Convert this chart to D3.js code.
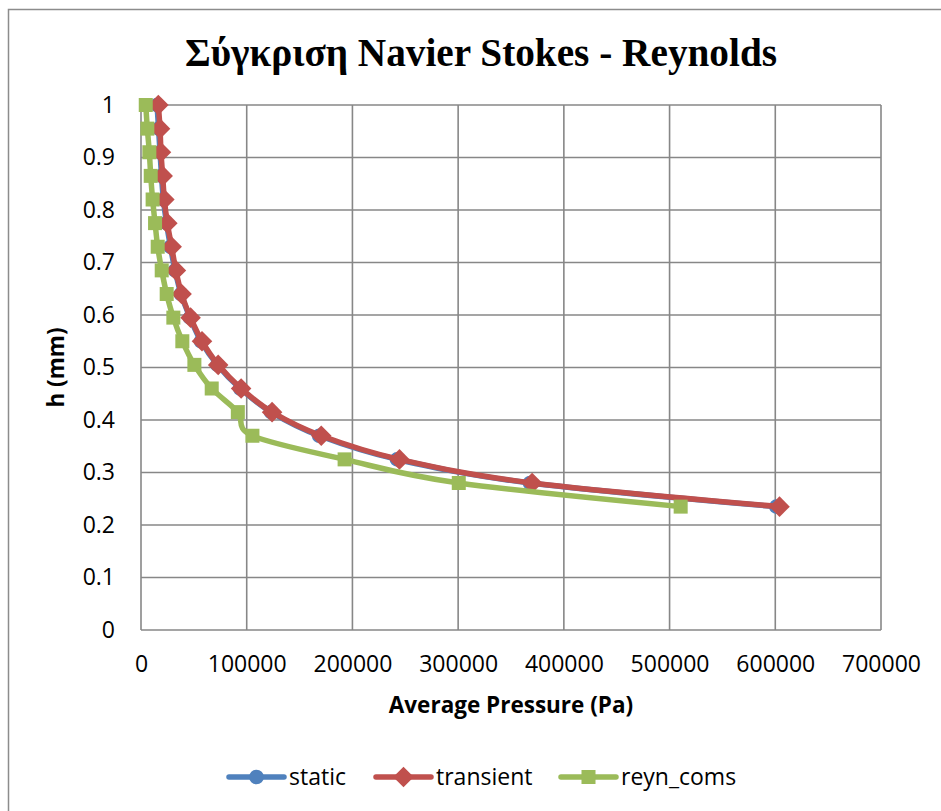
<!DOCTYPE html>
<html>
<head>
<meta charset="utf-8">
<script src="https://cdn.jsdelivr.net/npm/d3@7"></script>
<style>
  html, body { margin: 0; padding: 0; background: #fff; }
  svg { display: block; }
</style>
</head>
<body>
<svg id="chart" width="941" height="811"></svg>
<script>
// Film thickness h (mm) at which each pressure was computed
const hValues = [1.0, 0.955, 0.91, 0.865, 0.82, 0.775, 0.73, 0.685, 0.64,
                 0.595, 0.55, 0.505, 0.46, 0.415, 0.37, 0.325, 0.28, 0.235];

// Average pressure (Pa) for each solver
const staticP = [15200, 16600, 18000, 19400, 21200, 24100, 27900, 32200, 37900,
                 46400, 56800, 72300, 93800, 123100, 168600, 242200, 368000, 601000];
const transientP = [16400, 18000, 18900, 20500, 22100, 24900, 29000, 33000, 38400,
                    46900, 57700, 73000, 94700, 124000, 170500, 244500, 370000, 604000];
const reynComsP = [4500, 6000, 7900, 9200, 11000, 13300, 15800, 19600, 24300,
                   30600, 39100, 50500, 66900, 91600, 105400, 192600, 300600, 510500];

const seriesNames = ["static", "transient", "reyn_coms"];
const xTicks = [0, 100000, 200000, 300000, 400000, 500000, 600000, 700000];
const yTicks = [0, 0.1, 0.2, 0.3, 0.4, 0.5, 0.6, 0.7, 0.8, 0.9, 1];

const titleText = "Σύγκριση Navier Stokes - Reynolds";
const xTitle = "Average Pressure (Pa)";
const yTitle = "h (mm)";

const colors = { static: "#4F81BD", transient: "#C0504D", reyn_coms: "#9BBB59" };
const shapes = { static: d3.symbolCircle, transient: d3.symbolDiamond2, reyn_coms: d3.symbolSquare2 };

const series = [
  { name: seriesNames[0], xs: staticP },
  { name: seriesNames[1], xs: transientP },
  { name: seriesNames[2], xs: reynComsP }
].map(s => ({ name: s.name, pts: s.xs.map((x, i) => ({ x, h: hValues[i] })) }));

const svg = d3.select("#chart");
const plot = { left: 141, right: 881, top: 105, bottom: 630 };
const uiFont = "'Open Sans', 'Noto Sans', sans-serif";

// chart-area frame
svg.append("rect")
  .attr("x", 8.5).attr("y", 9.5)
  .attr("width", 960).attr("height", 840)
  .attr("fill", "#fff").attr("stroke", "#8c8c8c").attr("stroke-width", 1.5);

const x = d3.scaleLinear().domain([0, 700000]).range([plot.left, plot.right]);
const y = d3.scaleLinear().domain([0, 1]).range([plot.bottom, plot.top]);

// gridlines
const grid = svg.append("g").attr("stroke", "#878787").attr("stroke-width", 1.6);
grid.selectAll("line.v").data(xTicks).join("line")
  .attr("x1", d => x(d)).attr("x2", d => x(d))
  .attr("y1", plot.top).attr("y2", plot.bottom);
grid.selectAll("line.h").data(yTicks).join("line")
  .attr("x1", plot.left).attr("x2", plot.right)
  .attr("y1", d => y(d)).attr("y2", d => y(d));

// axes (labels only, gridlines drawn above)
const xAxis = svg.append("g")
  .attr("transform", `translate(0,${plot.bottom})`)
  .call(d3.axisBottom(x).tickValues(xTicks).tickFormat(d3.format("d")).tickSize(0).tickPadding(34));
const yAxis = svg.append("g")
  .attr("transform", `translate(${plot.left},0)`)
  .call(d3.axisLeft(y).tickValues(yTicks).tickFormat(d => d === 0 || d === 1 ? String(d) : d3.format(".1f")(d)).tickSize(0).tickPadding(26));
[xAxis, yAxis].forEach(a => {
  a.select(".domain").remove();
  a.selectAll("text").attr("font-family", uiFont).attr("font-size", 23).attr("fill", "#000");
});
xAxis.selectAll("text").attr("dy", "0.35em").attr("y", 34);

// series lines (smoothed) and markers
const line = d3.line().x(d => x(d.x)).y(d => y(d.h)).curve(d3.curveCardinal.tension(0));
const markerSize = { static: 170, transient: 270, reyn_coms: 250 };

series.forEach(s => {
  const g = svg.append("g");
  g.append("path")
    .attr("d", line(s.pts))
    .attr("fill", "none")
    .attr("stroke", colors[s.name])
    .attr("stroke-width", 5.5)
    .attr("stroke-linejoin", "round")
    .attr("stroke-linecap", "round");
  g.selectAll("path.m").data(s.pts).join("path")
    .attr("class", "m")
    .attr("transform", d => `translate(${x(d.x)},${y(d.h)})`)
    .attr("d", d3.symbol(shapes[s.name], markerSize[s.name])())
    .attr("fill", colors[s.name]);
});

// title
svg.append("text")
  .attr("x", 481).attr("y", 66)
  .attr("text-anchor", "middle")
  .attr("font-family", "'Liberation Serif', 'DejaVu Serif', serif")
  .attr("font-weight", "bold")
  .attr("font-size", 39)
  .attr("textLength", 592)
  .attr("lengthAdjust", "spacingAndGlyphs")
  .text(titleText);

// axis titles
svg.append("text")
  .attr("x", (plot.left + plot.right) / 2).attr("y", 713)
  .attr("text-anchor", "middle")
  .attr("font-family", uiFont).attr("font-weight", "bold").attr("font-size", 22.5)
  .text(xTitle);
svg.append("text")
  .attr("transform", `translate(64,${(plot.top + plot.bottom) / 2}) rotate(-90)`)
  .attr("text-anchor", "middle")
  .attr("font-family", uiFont).attr("font-weight", "bold").attr("font-size", 22.5)
  .text(yTitle);

// legend
const legendY = 777;
const legendX = [229, 376, 561];
seriesNames.forEach((name, i) => {
  const g = svg.append("g").attr("transform", `translate(${legendX[i]},${legendY})`);
  g.append("line").attr("x1", 0).attr("x2", 55).attr("y1", 0).attr("y2", 0)
    .attr("stroke", colors[name]).attr("stroke-width", 5.5).attr("stroke-linecap", "round");
  g.append("path").attr("transform", "translate(27.5,0)")
    .attr("d", d3.symbol(shapes[name], markerSize[name])())
    .attr("fill", colors[name]);
  g.append("text").attr("x", 60).attr("y", 0).attr("dy", "0.35em")
    .attr("font-family", uiFont).attr("font-size", 23)
    .text(name);
});
</script>
</body>
</html>
